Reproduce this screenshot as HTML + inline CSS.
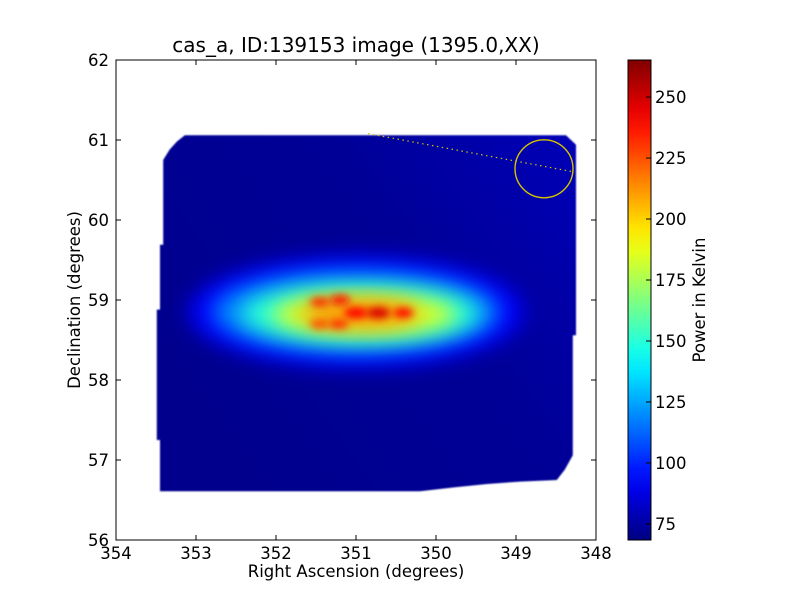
<!DOCTYPE html>
<html><head><meta charset="utf-8"><style>
body{margin:0;background:#fff;}
svg{display:block;font-family:"DejaVu Sans","Liberation Sans",sans-serif;}
</style></head><body>
<svg id="chart" width="800" height="600" viewBox="0 0 800 600">
<defs>
<filter id="blur" x="-50%" y="-50%" width="200%" height="200%"><feGaussianBlur stdDeviation="10"/></filter>
<filter id="blurS" x="-80%" y="-80%" width="260%" height="260%"><feGaussianBlur stdDeviation="4"/></filter>
<filter id="edge" x="-5%" y="-5%" width="110%" height="110%"><feGaussianBlur stdDeviation="0.8"/></filter>
<linearGradient id="cbar" x1="0" y1="1" x2="0" y2="0"></linearGradient>
<linearGradient id="bgGrad" x1="0" y1="0.7" x2="1" y2="0.1">
<stop offset="0" stop-color="#00008c"/><stop offset="0.6" stop-color="#000096"/><stop offset="1" stop-color="#0000b4"/></linearGradient>
<clipPath id="plotClip"><rect x="116" y="60" width="480" height="480"/></clipPath>
</defs>
<text x="356" y="52" font-size="20" text-anchor="middle">cas_a, ID:139153 image (1395.0,XX)</text>
<g id="plot" clip-path="url(#plotClip)"></g>
<rect x="116" y="60" width="480" height="480" fill="none" stroke="#000" stroke-width="1"/>
<g id="axes" font-size="16.5"></g>
<text x="356" y="577" font-size="16.5" text-anchor="middle">Right Ascension (degrees)</text>
<text transform="translate(80,300) rotate(-90)" font-size="16.5" text-anchor="middle">Declination (degrees)</text>
<rect x="628" y="60" width="23" height="480" fill="url(#cbar)" stroke="#000" stroke-width="1"/>
<g id="cbticks" font-size="16.5"></g>
<text transform="translate(705,300) rotate(-90)" font-size="16.5" text-anchor="middle">Power in Kelvin</text>
</svg>
<script>
const xTicks=[354,353,352,351,350,349,348];
const yTicks=[56,57,58,59,60,61,62];
const cbTicks=[75,100,125,150,175,200,225,250];
const vMin=68.4, vMax=265.2;
// emission components (RA deg, Dec deg, power K, width deg, height deg)
const blobRA=[351.0,351.0,350.95,350.9,350.95,351.45,351.2,351.22,351.45,351.0,350.72,350.41];
const blobDec=[58.85,58.85,58.83,58.82,58.83,58.975,59.0,58.7,58.7,58.84,58.84,58.84];
const blobPower=[92,118,150,185,212,232,238,232,225,240,248,240];
const blobW=[4.2,3.6,3.0,2.3,1.5,0.25,0.25,0.25,0.25,0.3,0.3,0.25];
const blobH=[1.4,1.05,0.75,0.5,0.35,0.12,0.12,0.12,0.12,0.14,0.14,0.12];
// footprint outline (RA, Dec)
const fpRA=[353.14,348.375,348.25,348.25,348.29,348.29,348.39,348.49,348.95,349.36,349.76,350.2,353.45,353.45,353.49,353.49,353.45,353.45,353.41,353.41,353.33,353.24];
const fpDec=[61.06,61.06,60.94,58.56,58.56,57.06,56.88,56.75,56.73,56.7,56.66,56.61,56.61,57.25,57.25,58.88,58.88,59.69,59.69,60.75,60.88,60.98];

const X=ra=>116+(354-ra)*80, Y=d=>540-(d-56)*80;
const CY=v=>540-(v-vMin)/(vMax-vMin)*480;
function jet(t){t=Math.max(0,Math.min(1,t));
 const r=Math.min(4*t-1.5,-4*t+4.5),g=Math.min(4*t-0.5,-4*t+3.5),b=Math.min(4*t+0.5,-4*t+2.5);
 const c=v=>Math.round(255*Math.max(0,Math.min(1,v)));return `rgb(${c(r)},${c(g)},${c(b)})`;}
const col=v=>jet((v-vMin)/(vMax-vMin));
const NS="http://www.w3.org/2000/svg";
function mk(tag,attrs,parent){const e=document.createElementNS(NS,tag);for(const k in attrs)e.setAttribute(k,attrs[k]);parent.appendChild(e);return e;}
const plot=document.getElementById('plot');
const pts=fpRA.map((r,i)=>X(r)+','+Y(fpDec[i])).join(' ');
const fp=mk('polygon',{points:pts,fill:'url(#bgGrad)',filter:'url(#edge)'},plot);


for(let i=0;i<blobRA.length;i++){
 const e=mk('ellipse',{cx:X(blobRA[i]),cy:Y(blobDec[i]),rx:blobW[i]*40,ry:blobH[i]*40,fill:col(blobPower[i]),filter:i<5?'url(#blur)':'url(#blurS)'},plot);
 
 
}
const ln=mk('line',{x1:X(350.85),y1:Y(61.08),x2:X(348.27),y2:Y(60.6),stroke:'#d4c400','stroke-width':1.2,'stroke-dasharray':'1.5,3.5'},plot);


const cr=mk('circle',{cx:X(348.65),cy:Y(60.64),r:29,fill:'none',stroke:'#d4c400','stroke-width':1.4},plot);


const ax=document.getElementById('axes');
xTicks.forEach(v=>{const x=X(v);
 mk('line',{x1:x,y1:540,x2:x,y2:535,stroke:'#000'},ax);mk('line',{x1:x,y1:60,x2:x,y2:65,stroke:'#000'},ax);
 const t=mk('text',{x:x,y:559,'text-anchor':'middle'},ax);t.textContent=v;
 
 });
yTicks.forEach(v=>{const y=Y(v);
 mk('line',{x1:116,y1:y,x2:121,y2:y,stroke:'#000'},ax);mk('line',{x1:596,y1:y,x2:591,y2:y,stroke:'#000'},ax);
 const t=mk('text',{x:109,y:y+6,'text-anchor':'end'},ax);t.textContent=v;
 
 });
const g=document.getElementById('cbar');
for(let i=0;i<=20;i++){mk('stop',{offset:i/20,'stop-color':jet(i/20)},g);}
const cb=document.getElementById('cbticks');
cbTicks.forEach(v=>{const y=CY(v);
 mk('line',{x1:646,y1:y,x2:651,y2:y,stroke:'#000'},cb);
 const t=mk('text',{x:655,y:y+6},cb);t.textContent=v;
 
 });
</script>
</body></html>
